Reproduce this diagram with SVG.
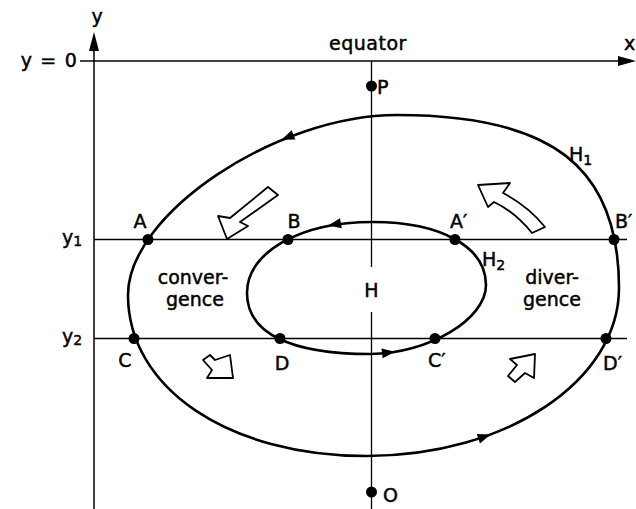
<svg xmlns="http://www.w3.org/2000/svg" width="636" height="509" viewBox="0 0 636 509">
<style>
.ax{stroke:#000;stroke-width:1.5;fill:none}
.ln{stroke:#000;stroke-width:1.3;fill:none}
.cv{stroke:#000;stroke-width:2.6;fill:none}
.dot{fill:#000}
.ah{fill:#000}
.bl{fill:#fff;stroke:#000;stroke-width:1.8;stroke-linejoin:round}
text{font-family:"DejaVu Sans","Liberation Sans",sans-serif;font-size:19px;fill:#000;stroke:#000;stroke-width:0.45}
.sub{font-size:14px}
</style>
<rect width="636" height="509" fill="#fff"/>
<g id="axes">
<line class="ax" x1="94" y1="509" x2="94" y2="48"/>
<polygon class="ah" points="94,32 89,51 99,51"/>
<line class="ax" x1="80" y1="61" x2="622" y2="61"/>
<polygon class="ah" points="636,61 618,56 618,66"/>
<line class="ln" x1="371.5" y1="61" x2="371.5" y2="267"/>
<line class="ln" x1="371.5" y1="312" x2="371.5" y2="509"/>
<line class="ln" x1="94" y1="239.5" x2="627" y2="239.5"/>
<line class="ln" x1="94" y1="338.5" x2="627" y2="338.5"/>
<text x="97" y="23" text-anchor="middle" font-size="21">y</text>
<text x="78" y="67" text-anchor="end" letter-spacing="1.2">y = 0</text>
<text x="368" y="50" text-anchor="middle" letter-spacing="0.5">equator</text>
<text x="624" y="50">x</text>
<text x="62" y="244">y<tspan class="sub" dy="2">1</tspan></text>
<text x="62" y="343">y<tspan class="sub" dy="2">2</tspan></text>
</g>
<g id="H1">
<path class="cv" d="M397,115 C276,115 128,214 128,295 C128,388 228,456 367,456 C506,456 619,381 619,288 C619,167 552,115 397,115 Z"/>
<polygon class="ah" transform="translate(287,137.5) rotate(158)" points="6,0 -7,-5 -7,5"/>
<polygon class="ah" transform="translate(485,436.5) rotate(-19)" points="6,0 -7,-5 -7,5"/>
<text x="569" y="161">H<tspan class="sub" dy="4">1</tspan></text>
</g>
<g id="H2">
<path class="cv" d="M373,222 C300,222 247,252 247,293 C247,333 290,354 370,354 C428,354 486,319.5 486,285 C486,247 441,222 373,222 Z"/>
<polygon class="ah" transform="translate(334,224.5) rotate(170)" points="6,0 -7,-5 -7,5"/>
<polygon class="ah" transform="translate(389,352.5) rotate(-7)" points="6,0 -7,-5 -7,5"/>
<text x="482" y="266">H<tspan class="sub" dy="4">2</tspan></text>
</g>
<g id="H">
<text x="371.5" y="297" text-anchor="middle">H</text>
</g>
<g id="P">
<circle class="dot" cx="371.5" cy="86" r="5.5"/>
<text x="377" y="94">P</text>
</g>
<g id="O">
<circle class="dot" cx="371.5" cy="492" r="5.5"/>
<text x="383" y="502">O</text>
</g>
<g id="A">
<circle class="dot" cx="148" cy="239.5" r="5.5"/>
<text x="140" y="228" text-anchor="middle">A</text>
</g>
<g id="B">
<circle class="dot" cx="288" cy="239.5" r="5.5"/>
<text x="294" y="228" text-anchor="middle">B</text>
</g>
<g id="A2">
<circle class="dot" cx="455" cy="239.5" r="5.5"/>
<text x="450" y="228">A′</text>
</g>
<g id="B2">
<circle class="dot" cx="614" cy="239.5" r="5.5"/>
<text x="615" y="228">B′</text>
</g>
<g id="C">
<circle class="dot" cx="134" cy="338.5" r="5.5"/>
<text x="125" y="367" text-anchor="middle">C</text>
</g>
<g id="D">
<circle class="dot" cx="280" cy="338.5" r="5.5"/>
<text x="282" y="370" text-anchor="middle">D</text>
</g>
<g id="C2">
<circle class="dot" cx="435" cy="338.5" r="5.5"/>
<text x="428" y="367">C′</text>
</g>
<g id="D2">
<circle class="dot" cx="606" cy="338.5" r="5.5"/>
<text x="603" y="370">D′</text>
</g>
<g id="convergence">
<text x="193" y="284" text-anchor="middle">conver-</text>
<text x="195" y="306" text-anchor="middle">gence</text>
<polygon class="bl" points="268,187 278,195 240,222 248,226 227,239 218,216 230,218"/>
<polygon class="bl" points="203,360 210,355 215,360 230,355 233,378 207,378 212,370"/>
</g>
<g id="divergence">
<text x="552" y="284" text-anchor="middle">diver-</text>
<text x="552" y="306" text-anchor="middle">gence</text>
<path class="bl" d="M478,185 L510,183 L503,193 Q528,206 545,227 L532,233 Q515,212 494,202 L488,207 Z"/>
<polygon class="bl" points="510,359 517,365 508,376 515,382 525,373 534,378 535,354"/>
</g>
</svg>
